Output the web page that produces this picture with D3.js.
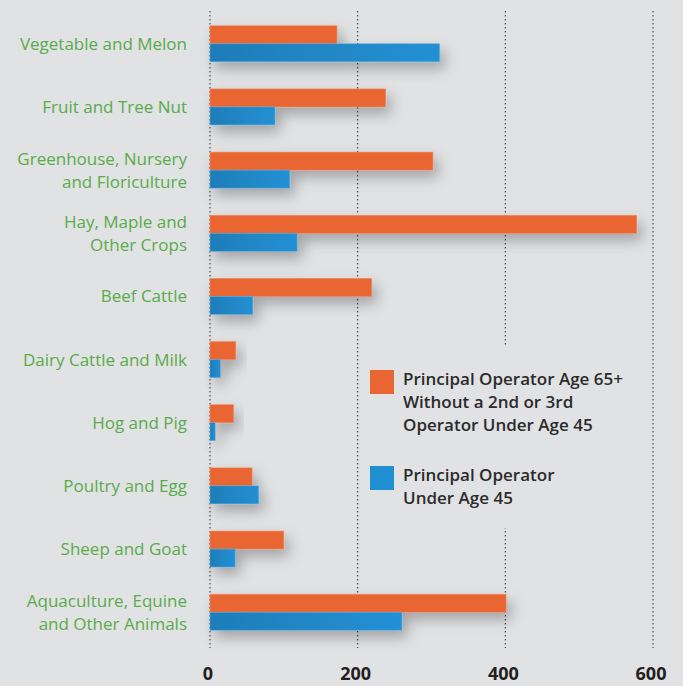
<!DOCTYPE html>
<html>
<head>
<meta charset="utf-8">
<script src="https://cdn.jsdelivr.net/npm/d3@7"></script>
<style>
  html, body { margin: 0; padding: 0; background: #e1e2e4; }
  svg { display: block; }
</style>
</head>
<body>
<svg id="canvas" width="683" height="686"></svg>
<script>
// categories (label lines) and series values
var categories = [
    ["Vegetable and Melon"],
    ["Fruit and Tree Nut"],
    ["Greenhouse, Nursery", "and Floriculture"],
    ["Hay, Maple and", "Other Crops"],
    ["Beef Cattle"],
    ["Dairy Cattle and Milk"],
    ["Hog and Pig"],
    ["Poultry and Egg"],
    ["Sheep and Goat"],
    ["Aquaculture, Equine", "and Other Animals"]
];
var olderValues = [172, 238, 302, 578, 219, 35, 32, 57, 100, 401];
var youngValues = [311, 88, 108, 118, 58, 14, 7, 66, 34, 260];
var ticks = [0, 200, 400, 600];
var legendLabels = [
    ["Principal Operator Age 65+", "Without a 2nd or 3rd", "Operator Under Age 45"],
    ["Principal Operator", "Under Age 45"]
];

function draw() {
    "use strict";

    var svg = d3.select(document.getElementById('canvas'));
    var orange = '#e96632';

    var x = d3.scaleLinear().domain([0, 600]).range([210, 653]);
    var y = d3.scaleBand()
        .domain(d3.range(categories.length))
        .range([10, 646])
        .paddingInner(0.43)
        .paddingOuter(0.25);

    var defs = svg.append('defs');
    var f = defs.append('filter').attr('id', 'shadow')
        .attr('x', '-20%').attr('y', '-60%').attr('width', '160%').attr('height', '260%');
    f.append('feDropShadow')
        .attr('dx', 5).attr('dy', 7).attr('stdDeviation', 7)
        .attr('flood-color', '#000').attr('flood-opacity', 0.28);

    var bg = defs.append('linearGradient').attr('id', 'blueGrad');
    bg.append('stop').attr('offset', '0%').attr('stop-color', '#1f7db8');
    bg.append('stop').attr('offset', '100%').attr('stop-color', '#2190d4');

    // gridlines
    svg.selectAll('line.grid')
        .data(ticks)
        .enter().append('line')
        .attr('class', 'grid')
        .attr('x1', function(d) { return x(d); })
        .attr('x2', function(d) { return x(d); })
        .attr('y1', 11).attr('y2', 648)
        .attr('stroke', '#2a2a2a')
        .attr('stroke-width', 1)
        .attr('stroke-dasharray', '1.5,2.5');

    // bars
    var groups = svg.selectAll('g.cat')
        .data(categories)
        .enter().append('g')
        .attr('class', 'cat')
        .attr('filter', 'url(#shadow)');

    var bh = y.bandwidth() / 2;

    groups.append('rect')
        .attr('x', x(0))
        .attr('y', function(d, i) { return y(i); })
        .attr('width', function(d, i) { return x(olderValues[i]) - x(0); })
        .attr('height', bh)
        .attr('fill', orange)
        .attr('stroke', '#ef8a66').attr('stroke-width', 0.6);

    groups.append('rect')
        .attr('x', x(0))
        .attr('y', function(d, i) { return y(i) + bh; })
        .attr('width', function(d, i) { return x(youngValues[i]) - x(0); })
        .attr('height', bh)
        .attr('fill', 'url(#blueGrad)')
        .attr('stroke', '#5aaee0').attr('stroke-width', 0.6);

    // category labels
    var labels = svg.selectAll('text.cat')
        .data(categories)
        .enter().append('text')
        .attr('class', 'cat')
        .attr('text-anchor', 'end')
        .attr('font-family', 'Open Sans, sans-serif')
        .attr('font-size', 17)
        .attr('fill', '#5aab4b');

    labels.each(function(lines, i) {
        var t = d3.select(this);
        var mid = y(i) + y.bandwidth() / 2;
        var lh = 23;
        var start = mid - (lines.length - 1) * lh / 2 + 6;
        lines.forEach(function(l, j) {
            t.append('tspan').attr('x', 187).attr('y', start + j * lh).text(l);
        });
    });

    // x axis tick labels
    svg.selectAll('text.tick')
        .data(ticks)
        .enter().append('text')
        .attr('class', 'tick')
        .attr('x', function(d) { return x(d) - 2; })
        .attr('y', 680)
        .attr('text-anchor', 'middle')
        .attr('font-family', 'Open Sans, sans-serif')
        .attr('font-weight', 'bold')
        .attr('font-size', 18)
        .attr('fill', '#231f20')
        .text(function(d) { return d; });

    // legend (covers the 400 gridline)
    svg.append('rect')
        .attr('x', 362).attr('y', 346)
        .attr('width', 275).attr('height', 182)
        .attr('fill', '#e1e2e4');

    var legendY = [370, 466];
    var colors = [orange, '#1f8fd2'];
    legendLabels.forEach(function(lines, k) {
        svg.append('rect')
            .attr('x', 370).attr('y', legendY[k])
            .attr('width', 24).attr('height', 24)
            .attr('fill', colors[k]);
        var t = svg.append('text')
            .attr('font-family', 'Open Sans, sans-serif')
            .attr('font-weight', 600)
            .attr('font-size', 17)
            .attr('fill', '#2b2b2b');
        lines.forEach(function(l, j) {
            t.append('tspan').attr('x', 403).attr('y', legendY[k] + 15 + j * 23).text(l);
        });
    });
}

draw();
</script>
</body>
</html>
